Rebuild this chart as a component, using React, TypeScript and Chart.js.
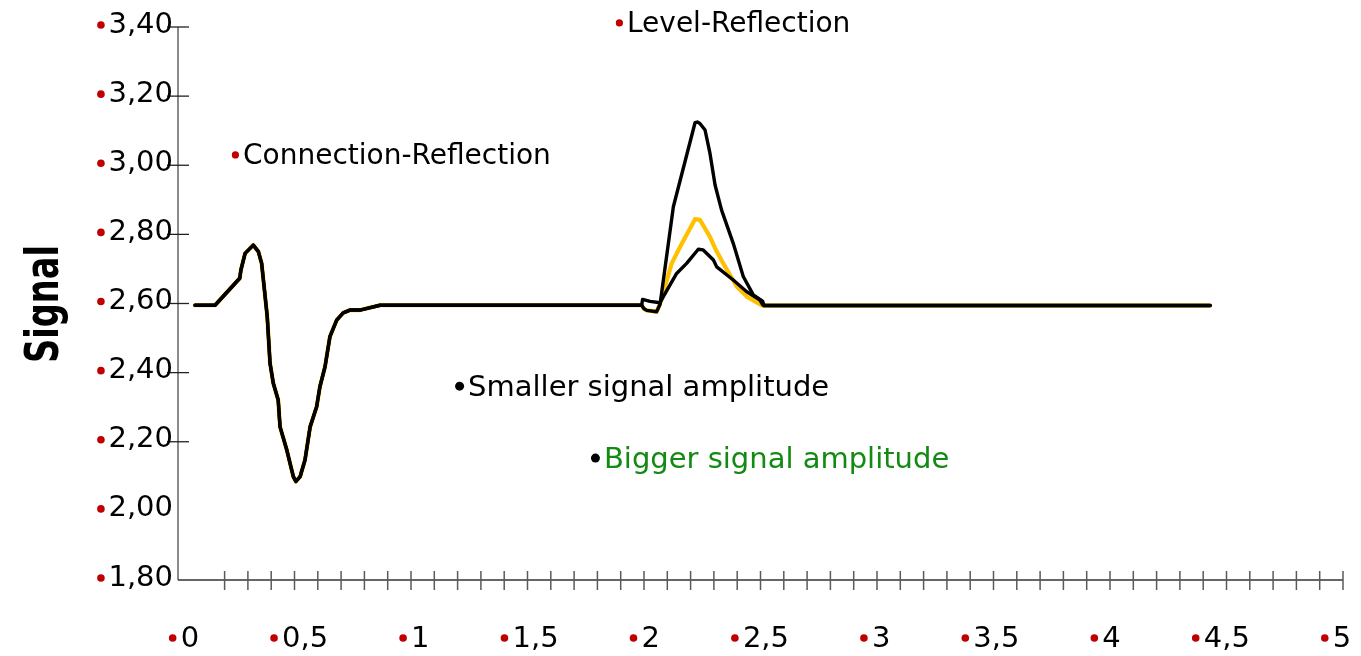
import React, { useEffect, useRef } from 'react';
import { Chart, registerables } from 'chart.js';

Chart.register(...registerables);

// ---------- data ----------
// shared start of every trace (connection reflection)
const leadX = [0.073, 0.159, 0.265, 0.270, 0.288, 0.323, 0.345, 0.359, 0.383, 0.395, 0.409, 0.430, 0.438, 0.467, 0.495, 0.506, 0.524, 0.545, 0.567, 0.595, 0.609, 0.631, 0.652, 0.681, 0.709, 0.738, 0.781, 0.867, 1.990];
const leadY = [2.595, 2.595, 2.673, 2.697, 2.745, 2.769, 2.750, 2.716, 2.562, 2.427, 2.369, 2.321, 2.243, 2.176, 2.099, 2.085, 2.099, 2.147, 2.243, 2.301, 2.359, 2.417, 2.504, 2.552, 2.573, 2.581, 2.581, 2.595, 2.595];

// level reflection, biggest peak (black)
const bigPeakX = [2.000, 2.012, 2.054, 2.069, 2.126, 2.219, 2.229, 2.240, 2.262, 2.283, 2.305, 2.333, 2.383, 2.426, 2.469, 2.509];
const bigPeakY = [2.585, 2.580, 2.576, 2.598, 2.880, 3.123, 3.125, 3.121, 3.102, 3.035, 2.943, 2.870, 2.774, 2.678, 2.625, 2.607];

// level reflection, middle peak (yellow)
const midPeakX = [2.000, 2.012, 2.054, 2.069, 2.119, 2.155, 2.219, 2.240, 2.283, 2.305, 2.340, 2.398, 2.441, 2.509];
const midPeakY = [2.585, 2.580, 2.576, 2.600, 2.716, 2.764, 2.844, 2.842, 2.793, 2.760, 2.716, 2.649, 2.620, 2.594];

// level reflection, smallest peak (black)
const smallPeakX = [1.994, 2.026, 2.069, 2.083, 2.140, 2.183, 2.233, 2.254, 2.298, 2.312, 2.383, 2.441, 2.498, 2.509];
const smallPeakY = [2.612, 2.606, 2.602, 2.620, 2.687, 2.716, 2.757, 2.755, 2.726, 2.706, 2.668, 2.634, 2.610, 2.597];

// shared flat end
const tailX = [2.515, 4.430];
const tailY = [2.594, 2.594];

// axes
const xTickLabels = ['0', '0,5', '1', '1,5', '2', '2,5', '3', '3,5', '4', '4,5', '5'];
const xTickValues = [0, 0.5, 1, 1.5, 2, 2.5, 3, 3.5, 4, 4.5, 5];
const yTickLabels = ['3,40', '3,20', '3,00', '2,80', '2,60', '2,40', '2,20', '2,00', '1,80'];
const yTickValues = [3.4, 3.2, 3.0, 2.8, 2.6, 2.4, 2.2, 2.0, 1.8];
const yTickMarks = [3.4, 3.2, 3.0, 2.8, 2.6, 2.4, 2.2];

const annotations = [
  { text: 'Level-Reflection', x: 1.927, y: 3.406, color: '#000000', dot: '#c00000', r: 3.6, size: 28 },
  { text: 'Connection-Reflection', x: 0.279, y: 3.024, color: '#000000', dot: '#c00000', r: 3.6, size: 28 },
  { text: 'Smaller signal amplitude', x: 1.245, y: 2.355, color: '#000000', dot: '#000000', r: 4.5, size: 29 },
  { text: 'Bigger signal amplitude', x: 1.828, y: 2.147, color: '#138a13', dot: '#000000', r: 4.5, size: 29 },
];

const FONT = '"DejaVu Sans", Verdana, sans-serif';
const RED = '#c00000';

function pts(...parts: [number[], number[]][]) {
  const out: { x: number; y: number }[] = [];
  parts.forEach(([xs, ys]) => xs.forEach((x, i) => out.push({ x, y: ys[i] })));
  return out;
}

const decor = {
  id: 'decor',
  beforeDatasetsDraw(chart: any) {
    const { ctx } = chart;
    const xs = chart.scales.x;
    const ys = chart.scales.y;
    const left = xs.getPixelForValue(0);
    const right = xs.getPixelForValue(5);
    const top = ys.getPixelForValue(3.4);
    const bottom = ys.getPixelForValue(1.8);
    ctx.save();
    ctx.strokeStyle = '#8a8a8a';
    ctx.lineWidth = 2;
    ctx.beginPath();
    ctx.moveTo(left, top);
    ctx.lineTo(left, bottom);
    ctx.stroke();
    ctx.strokeStyle = '#333333';
    ctx.lineWidth = 1.5;
    ctx.beginPath();
    ctx.moveTo(left, bottom);
    ctx.lineTo(right, bottom);
    ctx.stroke();
    ctx.strokeStyle = '#5a5a5a';
    ctx.lineWidth = 1.5;
    for (let i = 2; i <= 50; i++) {
      const px = xs.getPixelForValue(i / 10);
      ctx.beginPath();
      ctx.moveTo(px, bottom - 9);
      ctx.lineTo(px, bottom + 10);
      ctx.stroke();
    }
    ctx.strokeStyle = '#222222';
    ctx.lineWidth = 1.3;
    yTickMarks.forEach((v) => {
      const py = ys.getPixelForValue(v);
      ctx.beginPath();
      ctx.moveTo(left - 11, py);
      ctx.lineTo(left + 11, py);
      ctx.stroke();
    });
    ctx.restore();
  },
  afterDraw(chart: any) {
    const { ctx } = chart;
    const xs = chart.scales.x;
    const xl = chart.scales.xl;
    const ys = chart.scales.y;
    const left = xs.getPixelForValue(0);
    ctx.save();
    ctx.textBaseline = 'middle';
    ctx.font = `29px ${FONT}`;
    yTickValues.forEach((v, i) => {
      const py = ys.getPixelForValue(v) - 2;
      const label = yTickLabels[i];
      const w = ctx.measureText(label).width;
      const tx = left - 5 - w;
      ctx.fillStyle = '#000';
      ctx.textAlign = 'left';
      ctx.fillText(label, tx, py);
      ctx.fillStyle = RED;
      ctx.beginPath();
      ctx.arc(tx - 7.5, py, 3.8, 0, Math.PI * 2);
      ctx.fill();
    });
    xTickValues.forEach((v, i) => {
      const cx = xl.getPixelForValue(v);
      const label = xTickLabels[i];
      const w = ctx.measureText(label).width;
      const total = 3.8 + 8 + w;
      const start = cx - total / 2;
      const py = 639;
      ctx.fillStyle = RED;
      ctx.beginPath();
      ctx.arc(start + 3.8, py - 1, 3.8, 0, Math.PI * 2);
      ctx.fill();
      ctx.fillStyle = '#000';
      ctx.textAlign = 'left';
      ctx.fillText(label, start + 11.8, py);
    });
    annotations.forEach((a) => {
      ctx.font = `${a.size}px ${FONT}`;
      const px = xs.getPixelForValue(a.x);
      const py = ys.getPixelForValue(a.y);
      ctx.fillStyle = a.color;
      ctx.textAlign = 'left';
      ctx.fillText(a.text, px, py);
      ctx.fillStyle = a.dot;
      ctx.beginPath();
      ctx.arc(px - 4 - a.r, py - 2, a.r, 0, Math.PI * 2);
      ctx.fill();
    });
    ctx.save();
    ctx.translate(58, 304);
    ctx.rotate(-Math.PI / 2);
    ctx.font = `bold 46px ${FONT}`;
    const tw = ctx.measureText('Signal').width;
    ctx.scale(118 / tw, 1);
    ctx.fillStyle = '#000';
    ctx.textAlign = 'center';
    ctx.textBaseline = 'alphabetic';
    ctx.fillText('Signal', 0, 0);
    ctx.restore();
    ctx.restore();
  },
};

export default function App() {
  const ref = useRef<HTMLCanvasElement>(null);
  useEffect(() => {
    if (!ref.current) return;
    const chart = new Chart(ref.current, {
      type: 'scatter',
      data: {
        datasets: [
          {
            label: 'big',
            data: pts([leadX, leadY], [bigPeakX, bigPeakY], [tailX, tailY]),
            borderColor: '#000000',
            borderWidth: 3.4,
            order: 1,
          },
          {
            label: 'small',
            data: pts([leadX, leadY], [smallPeakX, smallPeakY], [tailX, tailY]),
            borderColor: '#000000',
            borderWidth: 3.4,
            order: 2,
          },
          {
            label: 'mid',
            data: pts([leadX, leadY], [midPeakX, midPeakY], [tailX, tailY]),
            borderColor: '#FFC000',
            borderWidth: 4.2,
            order: 3,
          },
        ].map((d) => ({
          ...d,
          showLine: true,
          pointRadius: 0,
          pointHoverRadius: 0,
          tension: 0,
          fill: false,
          borderJoinStyle: 'round' as const,
          borderCapStyle: 'round' as const,
          clip: false as any,
        })),
      },
      options: {
        responsive: false,
        animation: false,
        events: [],
        layout: { padding: { left: 178, top: 27, right: 18, bottom: 76 } },
        scales: {
          x: { type: 'linear', min: 0, max: 5, display: false },
          xl: { type: 'linear', axis: 'x', min: -0.026, max: 5.03, display: false },
          y: { type: 'linear', min: 1.8, max: 3.4, display: false },
        },
        plugins: {
          legend: { display: false },
          tooltip: { enabled: false },
          title: { display: false },
        },
      },
      plugins: [decor],
    });
    return () => chart.destroy();
  }, []);
  return (
    <div style={{ position: 'absolute', left: 0, top: 0, width: 1361, height: 656, background: '#ffffff' }}>
      <canvas ref={ref} width={1361} height={656} style={{ display: 'block', width: 1361, height: 656 }} />
    </div>
  );
}
